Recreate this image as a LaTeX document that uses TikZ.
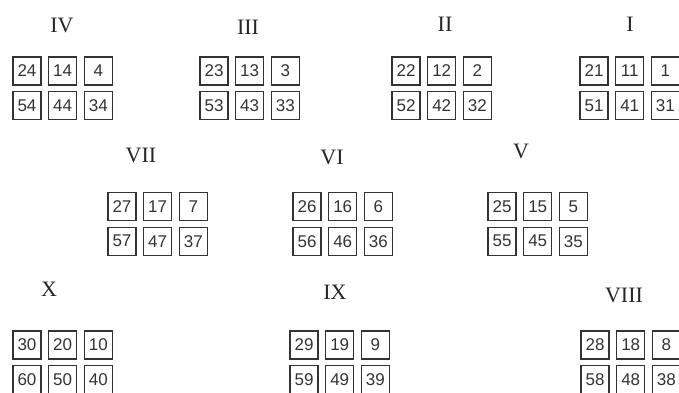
\documentclass[tikz,border=0pt]{standalone}
\usepackage{fontspec}
\setmainfont{Liberation Serif}
\newfontfamily\cellfont{Liberation Sans}
\usetikzlibrary{positioning}

\begin{document}
\begin{tikzpicture}[x=1pt,y=-1pt,
    cell/.style={draw=black!80, line width=1.2pt, minimum width=28pt, minimum height=28pt,
      inner sep=0pt, text=black!80, font=\cellfont\fontsize{17}{17}\selectfont},
    numeral/.style={text=black!85, font=\fontsize{22}{22}\selectfont}]
  \useasboundingbox (0,0) rectangle (679,392);
  \foreach \k/\rn/\tx/\ty/\gx/\gy in {1/I/630/24/594/71, 2/II/445/24/406/71,
      3/III/248/27/214/71, 4/IV/62/25/27/71, 5/V/521/151/502/206.5,
      6/VI/332/157/307/206.5, 7/VII/141/155/122/206.5, 8/VIII/624/295/595/345,
      9/IX/335/292/304/345, 10/X/49/289/27/345} {
    \node[numeral] (title\k) at (\tx,\ty) {\rn};
    \pgfmathtruncatemacro{\na}{20+\k}
    \pgfmathtruncatemacro{\nb}{10+\k}
    \pgfmathtruncatemacro{\nd}{50+\k}
    \pgfmathtruncatemacro{\ne}{40+\k}
    \pgfmathtruncatemacro{\nf}{30+\k}
    \node[cell] (g\k a) at (\gx,\gy) {\na};
    \node[cell, right=6.5pt of g\k a] (g\k b) {\nb};
    \node[cell, right=6.5pt of g\k b] (g\k c) {\k};
    \node[cell, below=5.5pt of g\k a] (g\k d) {\nd};
    \node[cell, right=6.5pt of g\k d] (g\k e) {\ne};
    \node[cell, right=6.5pt of g\k e] (g\k f) {\nf};
  }
\end{tikzpicture}
\end{document}
